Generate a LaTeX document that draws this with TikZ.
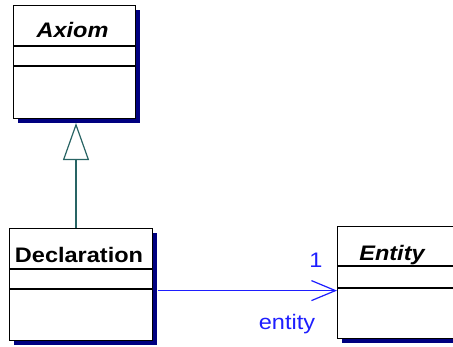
\documentclass[tikz,border=0pt]{standalone}
\usepackage{fontspec}
\setmainfont[FakeStretch=1.12]{Liberation Sans}
\usetikzlibrary{arrows.meta,shadows}
\definecolor{shadowNavy}{RGB}{0,0,128}
\definecolor{genTeal}{RGB}{40,100,100}
\definecolor{assocBlue}{RGB}{30,30,255}
\tikzstyle{classBox}=[shape = rectangle, draw, line width = 1.2pt, fill = white, anchor = north west, inner sep = 0pt, drop shadow = {shadow xshift = 4.5pt, shadow yshift = -4.5pt, fill = shadowNavy, opacity = 1}]
\tikzstyle{className}=[font = \fontsize{21}{24}\selectfont\bfseries, inner sep = 0pt, anchor = base]
\tikzstyle{abstractName}=[font = \fontsize{21}{24}\selectfont\bfseries\itshape, inner sep = 0pt, anchor = base]

\begin{document}
\begin{tikzpicture}[x = 1pt, y = -1pt]
\useasboundingbox (0,0) rectangle (453,346);
\tikzstyle{compLine}=[line width = 1.2pt]
\tikzstyle{genStyle}=[draw = genTeal, line width = 1.2pt, -{Triangle[open, length = 37pt, width = 26pt, fill = white]}]
\tikzstyle{assocStyle}=[draw = assocBlue, line width = 1.2pt, -{Straight Barb[length = 24pt, width = 20pt]}]
\tikzstyle{roleLabel}=[text = assocBlue, font = \fontsize{21}{24}\selectfont, inner sep = 0pt, anchor = base]
\node[classBox, minimum width = 122pt, minimum height = 113pt] (axiom) at (13,5) {};
\node[classBox, minimum width = 143pt, minimum height = 112pt] (decl) at (9,228) {};
\node[classBox, minimum width = 130pt, minimum height = 112pt] (entity) at (337,226) {};
% compartments
\draw[compLine] ([yshift = -41pt]axiom.north west) -- ([yshift = -41pt]axiom.north east);
\draw[compLine] ([yshift = -61pt]axiom.north west) -- ([yshift = -61pt]axiom.north east);
\draw[compLine] ([yshift = -41pt]decl.north west) -- ([yshift = -41pt]decl.north east);
\draw[compLine] ([yshift = -61pt]decl.north west) -- ([yshift = -61pt]decl.north east);
\draw[compLine] ([yshift = -40pt]entity.north west) -- ([yshift = -40pt]entity.north east);
\draw[compLine] ([yshift = -62pt]entity.north west) -- ([yshift = -62pt]entity.north east);
\node[abstractName] (axiomName) at (72.5,37) {Axiom};
\node[className] (declName) at (79,262) {Declaration};
\node[abstractName] (entityName) at (392,260) {Entity};
\coordinate (axiomTip) at (76,123);
\draw[genStyle] (decl.north -| axiomTip) -- (axiomTip);
\draw[assocStyle] ([xshift = 4.5pt, yshift = -6pt]decl.east) -- ([yshift = -8pt]entity.west);
\node[roleLabel] (multOne) at (316,267) {1};
\node[roleLabel] (roleEntity) at (287,329) {entity};
\end{tikzpicture}
\end{document}
